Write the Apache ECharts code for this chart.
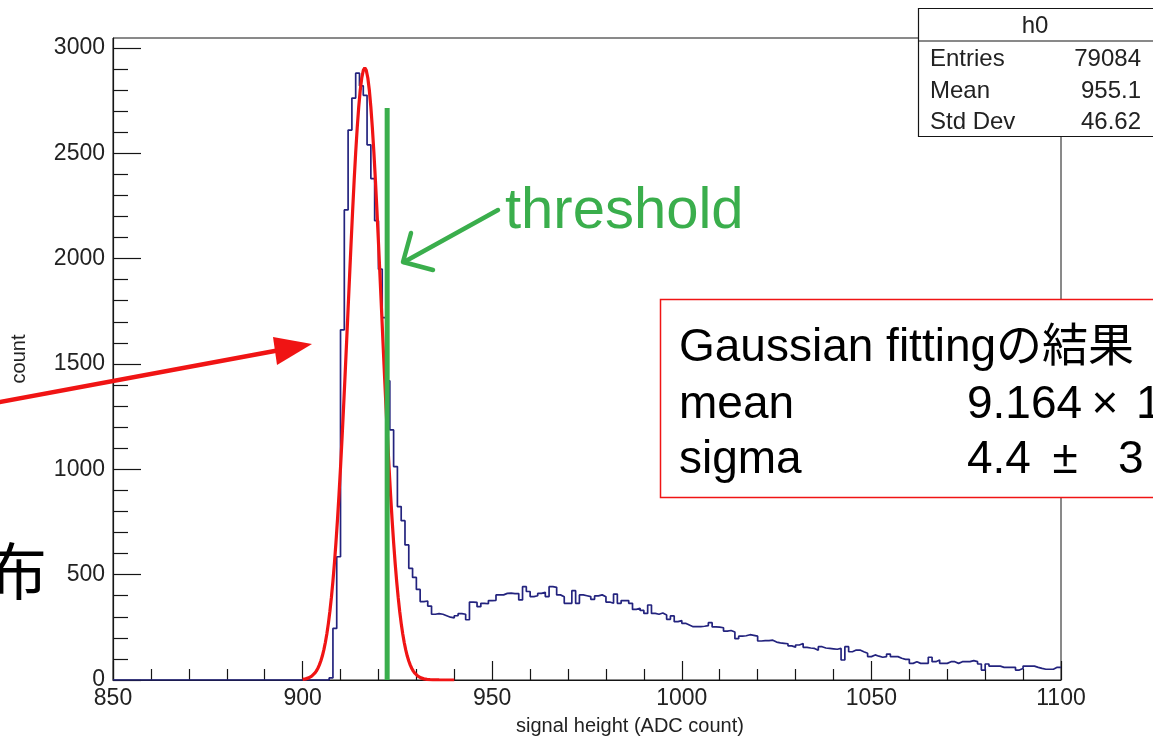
<!DOCTYPE html>
<html>
<head>
<meta charset="utf-8">
<script src="https://cdn.jsdelivr.net/npm/echarts@6/dist/echarts.min.js"></script>
<style>
  html, body { margin: 0; padding: 0; background: #fff; }
  #chart { width: 1153px; height: 741px; }
</style>
</head>
<body>
<div id="chart"></div>
<script>
// ---- axis ranges and tick labels ----
const xMin = 850;
const xMax = 1100;
const xStep = 50;
const yMax = 3047;
const yTickValues = [0, 500, 1000, 1500, 2000, 2500, 3000];

// ---- histogram h0: 1 ADC-count bins, first non-empty region starts at 906 ----
const histFirstBin = 906;
const binWidth = 1;
const binCounts = [
  0, 10, 245, 585, 1662, 2231, 2610, 2762, 2880, 2820,        // 906-915
  2775, 2540, 2380, 2180, 1950, 1720, 1420, 1187, 1013, 823,  // 916-925
  756, 641, 530, 487, 430, 372, 375, 351, 312, 315,           // 926-935
  312, 305, 298, 295, 305, 315, 312, 286, 370, 368,           // 936-945
  348, 364, 362, 377, 378, 404, 404, 411, 412, 410,           // 946-955
  410, 380, 443, 420, 396, 400, 411, 416, 396, 443,           // 956-965
  440, 404, 395, 364, 364, 424, 364, 404, 400, 396,           // 966-975
  383, 399, 404, 395, 370, 364, 408, 364, 377, 377,           // 976-985
  364, 335, 340, 330, 316, 356, 316, 312, 318, 309,           // 986-995
  288, 304, 277, 282, 269, 261, 253, 253, 253, 255,           // 996-1005
  258, 272, 252, 251, 248, 232, 235, 228, 196, 208,           // 1006-1015
  210, 215, 212, 208, 185, 187, 187, 189, 180, 176,           // 1016-1025
  174, 172, 162, 156, 166, 173, 155, 152, 150, 141,           // 1026-1035
  158, 152, 150, 148, 146, 150, 95, 158, 134, 142,            // 1036-1045
  142, 134, 127, 111, 119, 113, 108, 111, 123, 111,           // 1046-1055
  111, 103, 98, 98, 79, 87, 79, 79, 79, 108,                  // 1056-1065
  87, 95, 79, 79, 87, 87, 79, 87, 87, 87,                     // 1066-1075
  92, 87, 76, 47, 76, 66, 66, 66, 60, 60,                     // 1076-1085
  60, 60, 47, 55, 66, 66, 66, 60, 55, 51,                     // 1086-1095
  51, 51, 60, 60                                              // 1096-1099
];

// ---- Gaussian fit result ----
const fitMean = 916.4;
const fitSigma = 4.4;
const fitConstant = 2905;
const fitRange = [900, 940];
const fitPoints = 100;

// ---- threshold marker ----
const thresholdAdc = 922.3;
const thresholdTop = 2715;

// ---- statistics box ----
const statsTitle = 'h0';
const statsLabels = ['Entries', 'Mean', 'Std Dev'];
const statsValues = ['79084', '955.1', '46.62'];

// ---- texts ----
const xTitle = 'signal height (ADC count)';
const yTitle = 'count';
const fitHeading = 'Gaussian fittingの結果';
const fitRowLabels = ['mean', 'sigma'];
const thresholdText = 'threshold';
const sideText = '布';

// histogram outline as a stepped line through the lower bin edges
const histData = [[xMin, 0]];
binCounts.forEach(function (c, i) { histData.push([histFirstBin + i * binWidth, c]); });
histData.push([xMax, binCounts[binCounts.length - 1]]);

// fitted Gaussian evaluated over the fit range
const fitData = [];
for (let k = 0; k <= fitPoints; k++) {
  const x = fitRange[0] + (fitRange[1] - fitRange[0]) * k / fitPoints;
  const z = (x - fitMean) / fitSigma;
  fitData.push([x, fitConstant * Math.exp(-0.5 * z * z)]);
}

// minor ticks: four between each pair of labelled ticks
const yMinorTicks = [];
for (let i = 0; i < yTickValues.length - 1; i++) {
  const a = yTickValues[i], b = yTickValues[i + 1];
  for (let j = 1; j < 5; j++) yMinorTicks.push(a + (b - a) * j / 5);
}

const ink = '#151515';
const labelFont = '"Liberation Sans", Arial, Helvetica, sans-serif';
const jpFont = '"Liberation Sans", Arial, "Noto Sans CJK JP", sans-serif';
const green = '#3aae4c';
const red = '#f01414';
const plain = function (v) { return String(v); };

const chart = echarts.init(document.getElementById('chart'), null, { renderer: 'canvas' });

chart.setOption({
  animation: false,
  backgroundColor: '#ffffff',
  grid: {
    left: 113, right: 92, top: 38, bottom: 61,
    show: true, borderColor: ink, borderWidth: 1, backgroundColor: 'transparent'
  },
  xAxis: {
    type: 'value', min: xMin, max: xMax, interval: xStep,
    axisLine: { show: true, lineStyle: { color: ink, width: 1.2 } },
    axisTick: { show: true, inside: true, length: 19, lineStyle: { color: ink, width: 1.2 } },
    minorTick: { show: true, splitNumber: 5, length: 11, lineStyle: { color: ink, width: 1.2 } },
    splitLine: { show: false },
    minorSplitLine: { show: false },
    axisLabel: { color: '#222', fontSize: 23, fontFamily: labelFont, margin: 7, formatter: plain }
  },
  yAxis: [
    {
      type: 'value', min: 0, max: yMax, position: 'left',
      axisLine: { show: true, lineStyle: { color: ink, width: 1.2 } },
      axisTick: { show: true, inside: true, length: 28, customValues: yTickValues, lineStyle: { color: ink, width: 1.2 } },
      axisLabel: { customValues: yTickValues, color: '#222', fontSize: 23, fontFamily: labelFont, margin: 8, formatter: plain },
      splitLine: { show: false }
    },
    {
      type: 'value', min: 0, max: yMax, position: 'left',
      axisLine: { show: false },
      axisTick: { show: true, inside: true, length: 15, customValues: yMinorTicks, lineStyle: { color: ink, width: 1.2 } },
      axisLabel: { show: false },
      splitLine: { show: false }
    }
  ],
  series: [
    {
      name: 'h0', type: 'line', step: 'end', data: histData, yAxisIndex: 0,
      showSymbol: false, silent: true, z: 2,
      lineStyle: { color: '#23237e', width: 1.7 }
    },
    {
      name: 'gaus', type: 'line', data: fitData, yAxisIndex: 0,
      showSymbol: false, silent: true, smooth: false, z: 3,
      lineStyle: { color: red, width: 3.2 }
    },
    {
      name: 'threshold', type: 'line', data: [[thresholdAdc, 0], [thresholdAdc, thresholdTop]], yAxisIndex: 0,
      showSymbol: false, silent: true, z: 4,
      lineStyle: { color: green, width: 5 }
    }
  ],
  graphic: [
    // axis titles
    { type: 'text', z: 50, x: 630, y: 726, style: { text: xTitle, fill: '#222', font: '20px ' + labelFont, align: 'center', verticalAlign: 'middle' } },
    { type: 'text', z: 50, x: 19, y: 359, rotation: Math.PI / 2, style: { text: yTitle, fill: '#222', font: '20px ' + labelFont, align: 'center', verticalAlign: 'middle' } },

    // statistics box
    { type: 'rect', z: 60, shape: { x: 918.5, y: 8.5, width: 250, height: 128 }, style: { fill: '#fff', stroke: ink, lineWidth: 1.2 } },
    { type: 'line', z: 61, shape: { x1: 918.5, y1: 41, x2: 1160, y2: 41 }, style: { stroke: ink, lineWidth: 1.2 } },
    { type: 'text', z: 62, x: 1035, y: 26, style: { text: statsTitle, fill: '#222', font: '24px ' + labelFont, align: 'center', verticalAlign: 'middle' } },
    { type: 'text', z: 62, x: 930, y: 59, style: { text: statsLabels[0], fill: '#222', font: '24px ' + labelFont, align: 'left', verticalAlign: 'middle' } },
    { type: 'text', z: 62, x: 930, y: 91, style: { text: statsLabels[1], fill: '#222', font: '24px ' + labelFont, align: 'left', verticalAlign: 'middle' } },
    { type: 'text', z: 62, x: 930, y: 122, style: { text: statsLabels[2], fill: '#222', font: '24px ' + labelFont, align: 'left', verticalAlign: 'middle' } },
    { type: 'text', z: 62, x: 1141, y: 59, style: { text: statsValues[0], fill: '#222', font: '24px ' + labelFont, align: 'right', verticalAlign: 'middle' } },
    { type: 'text', z: 62, x: 1141, y: 91, style: { text: statsValues[1], fill: '#222', font: '24px ' + labelFont, align: 'right', verticalAlign: 'middle' } },
    { type: 'text', z: 62, x: 1141, y: 122, style: { text: statsValues[2], fill: '#222', font: '24px ' + labelFont, align: 'right', verticalAlign: 'middle' } },

    // fit result box
    { type: 'rect', z: 70, shape: { x: 660.5, y: 299.5, width: 520, height: 198 }, style: { fill: '#fff', stroke: red, lineWidth: 1.5 } },
    { type: 'text', z: 71, x: 679, y: 348, style: { text: fitHeading, fill: '#000', font: '46px ' + jpFont, align: 'left', verticalAlign: 'middle' } },
    { type: 'text', z: 71, x: 679, y: 405, style: { text: fitRowLabels[0], fill: '#000', font: '46px ' + labelFont, align: 'left', verticalAlign: 'middle' } },
    { type: 'text', z: 71, x: 679, y: 460, style: { text: fitRowLabels[1], fill: '#000', font: '46px ' + labelFont, align: 'left', verticalAlign: 'middle' } },
    { type: 'text', z: 71, x: 967, y: 405, style: { text: (fitMean / 100).toFixed(3), fill: '#000', font: '46px ' + labelFont, align: 'left', verticalAlign: 'middle' } },
    { type: 'text', z: 71, x: 1105, y: 405, style: { text: '×', fill: '#000', font: '46px ' + labelFont, align: 'center', verticalAlign: 'middle' } },
    { type: 'text', z: 71, x: 1136, y: 405, style: { text: '10²', fill: '#000', font: '46px ' + labelFont, align: 'left', verticalAlign: 'middle' } },
    { type: 'text', z: 71, x: 967, y: 460, style: { text: fitSigma.toFixed(1), fill: '#000', font: '46px ' + labelFont, align: 'left', verticalAlign: 'middle' } },
    { type: 'text', z: 71, x: 1065, y: 460, style: { text: '±', fill: '#000', font: '46px ' + labelFont, align: 'center', verticalAlign: 'middle' } },
    { type: 'text', z: 71, x: 1118, y: 460, style: { text: '3', fill: '#000', font: '46px ' + labelFont, align: 'left', verticalAlign: 'middle' } },

    // threshold label and hand-drawn arrow
    { type: 'text', z: 80, x: 505, y: 212, style: { text: thresholdText, fill: green, font: '58px ' + labelFont, align: 'left', verticalAlign: 'middle' } },
    { type: 'polyline', z: 80, shape: { points: [[498, 210], [404, 262]] }, style: { stroke: green, lineWidth: 4.5, lineCap: 'round' } },
    { type: 'polyline', z: 80, shape: { points: [[411, 233], [403, 262], [433, 270]] }, style: { stroke: green, lineWidth: 4.5, lineCap: 'round', lineJoin: 'round', fill: null } },

    // red arrow pointing at the fit
    { type: 'line', z: 80, shape: { x1: -5, y1: 403, x2: 280, y2: 350 }, style: { stroke: red, lineWidth: 4.5 } },
    { type: 'polygon', z: 80, shape: { points: [[312, 344], [273, 337], [277, 365]] }, style: { fill: red } },

    // side caption
    { type: 'text', z: 80, x: -15, y: 571, style: { text: sideText, fill: '#000', font: '62px "Noto Sans CJK JP", sans-serif', align: 'left', verticalAlign: 'middle' } }
  ]
});
</script>
</body>
</html>
